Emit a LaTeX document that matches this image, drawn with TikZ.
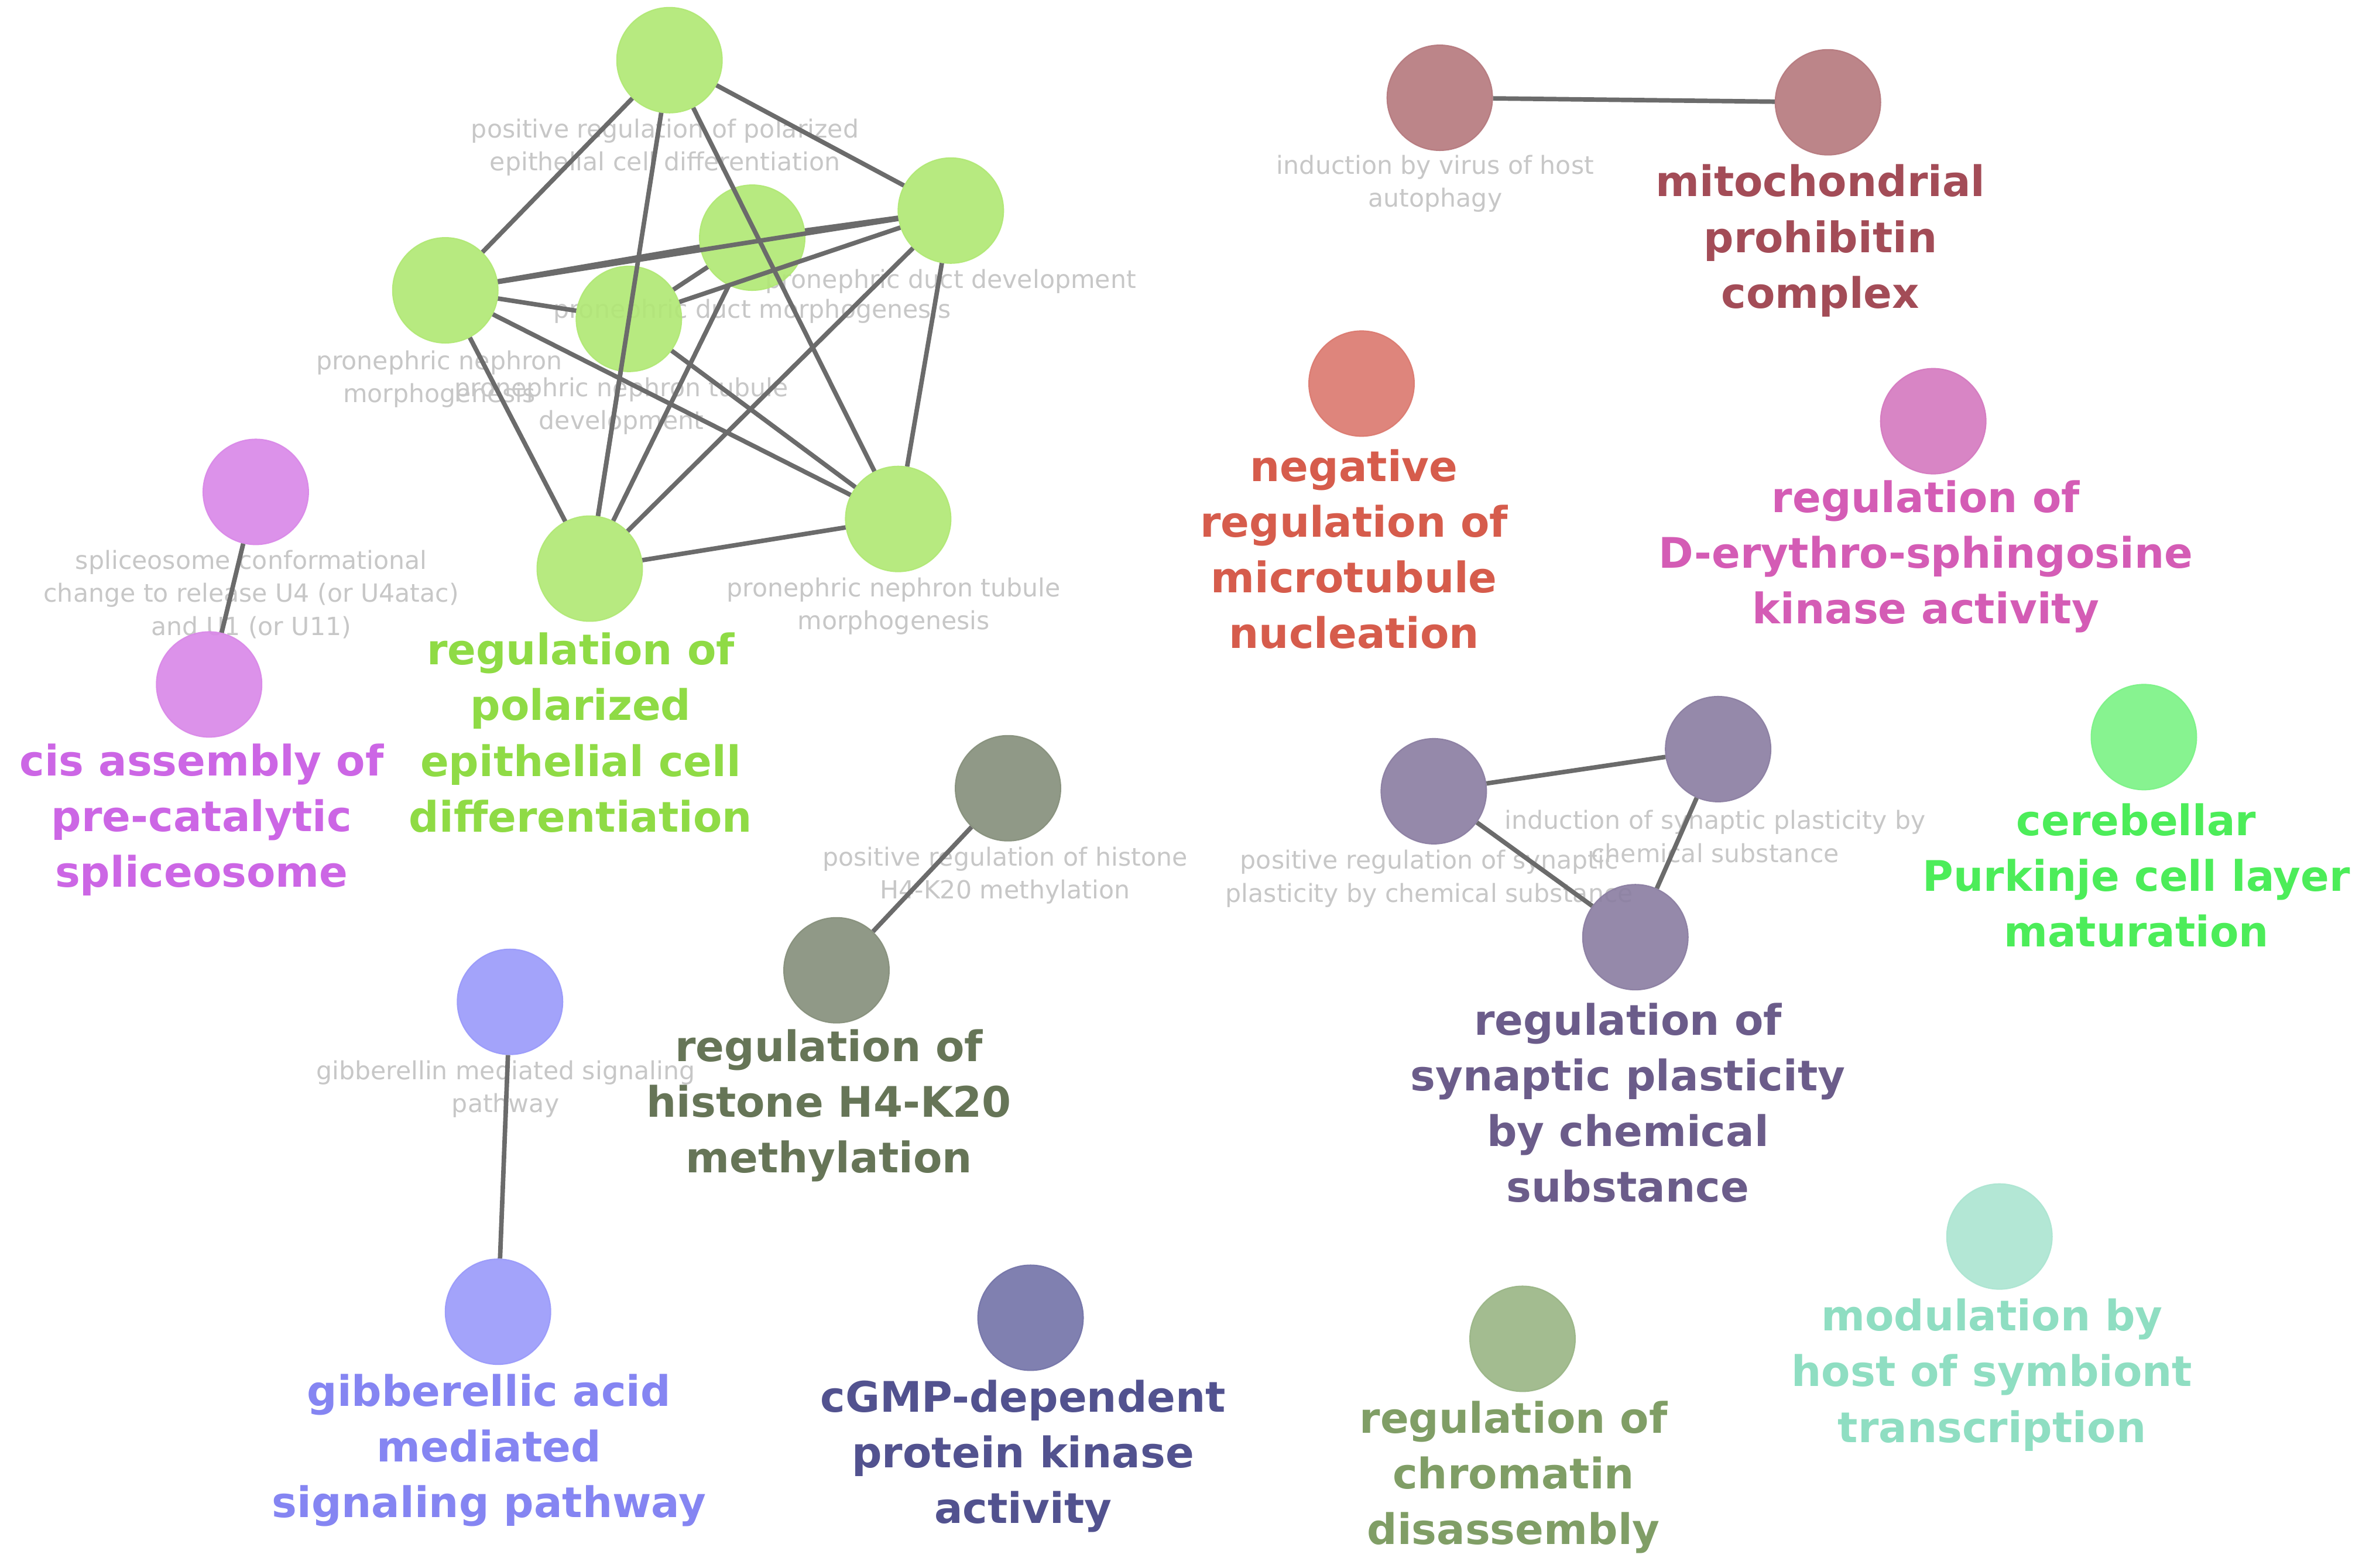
\documentclass[tikz,border=0pt]{standalone}
\usepackage{fontspec}
\setmainfont{DejaVu Sans}
\usetikzlibrary{positioning}
\definecolor{edgeColor}{rgb}{0.42,0.42,0.42}
\definecolor{smallColor}{rgb}{0.78,0.78,0.78}
\definecolor{polColor}{rgb}{0.69,0.91,0.45}
\definecolor{polText}{rgb}{0.56,0.86,0.27}
\definecolor{mitoColor}{rgb}{0.71,0.47,0.49}
\definecolor{mitoText}{rgb}{0.64,0.30,0.34}
\definecolor{tubColor}{rgb}{0.86,0.47,0.43}
\definecolor{tubText}{rgb}{0.84,0.36,0.30}
\definecolor{sphColor}{rgb}{0.83,0.47,0.75}
\definecolor{sphText}{rgb}{0.83,0.36,0.71}
\definecolor{splColor}{rgb}{0.85,0.53,0.91}
\definecolor{splText}{rgb}{0.80,0.40,0.90}
\definecolor{cerColor}{rgb}{0.48,0.95,0.52}
\definecolor{cerText}{rgb}{0.30,0.93,0.35}
\definecolor{hisColor}{rgb}{0.52,0.56,0.48}
\definecolor{hisText}{rgb}{0.40,0.46,0.34}
\definecolor{synColor}{rgb}{0.54,0.49,0.63}
\definecolor{synText}{rgb}{0.42,0.36,0.54}
\definecolor{gibColor}{rgb}{0.60,0.60,0.98}
\definecolor{gibText}{rgb}{0.52,0.52,0.95}
\definecolor{cgmColor}{rgb}{0.45,0.45,0.66}
\definecolor{cgmText}{rgb}{0.32,0.32,0.56}
\definecolor{chrColor}{rgb}{0.60,0.71,0.52}
\definecolor{chrText}{rgb}{0.50,0.62,0.40}
\definecolor{modColor}{rgb}{0.67,0.90,0.82}
\definecolor{modText}{rgb}{0.56,0.87,0.76}
\tikzset{
  term/.style={circle,minimum size=35pt,inner sep=0pt,fill=#1,draw=#1,opacity=0.9},
  small/.style={text=smallColor,align=center,font=\fontsize{8.3}{11}\selectfont},
  big/.style={text=#1,align=center,font=\fontsize{14}{18.5}\selectfont\bfseries},
  link/.style={draw=edgeColor,line width=1.5pt}
}
\begin{document}
\begin{tikzpicture}[x=0.5pt,y=-0.5pt]
\path[use as bounding box,fill=white] (0,0) rectangle (1568,1042);

% text labels
\node[small] (lpol) at (442,98) {positive regulation of polarized\\epithelial cell differentiation};
\node[small] (ldev) at (632,187) {pronephric duct development};
\node[small] (lmor) at (500,207) {pronephric duct morphogenesis};
\node[small] (lnep) at (292,252) {pronephric nephron\\morphogenesis};
\node[small] (ltub) at (413,270) {pronephric nephron tubule\\development};
\node[small] (ltubm) at (594,403) {pronephric nephron tubule\\morphogenesis};
\node[small] (lvir) at (954,122) {induction by virus of host\\autophagy};
\node[small] (lspl) at (167,395) {spliceosome conformational\\change to release U4 (or U4atac)\\and U1 (or U11)};
\node[small] (lhis) at (668,582) {positive regulation of histone\\H4-K20 methylation};
\node[small] (lind) at (1140,556) {induction of synaptic plasticity by\\chemical substance};
\node[small] (lpos) at (950,584) {positive regulation of synaptic\\plasticity by chemical substance};
\node[small] (lgib) at (336,724) {gibberellin mediated signaling\\pathway};

% green cluster
\node[term=polColor] (g1) at (445,40) {};
\node[term=polColor] (g2) at (632,140) {};
\node[term=polColor] (g3) at (500,158) {};
\node[term=polColor] (g4) at (296,193) {};
\node[term=polColor] (g5) at (418,212) {};
\node[term=polColor] (g6) at (597,345) {};
\node[term=polColor] (g7) at (392,378) {};
\foreach \a/\b in {g1/g2,g1/g4,g1/g6,g1/g7,g2/g3,g2/g4,g2/g5,g2/g6,g2/g7,
                   g3/g4,g3/g5,g3/g7,g4/g5,g4/g6,g4/g7,g5/g6,g5/g7,g6/g7}
  \draw[link] (\a) -- (\b);

% other terms
\node[term=mitoColor] (vir) at (957,65) {};
\node[term=mitoColor] (mito) at (1215,68) {};
\node[term=tubColor] (tub) at (905,255) {};
\node[term=sphColor] (sph) at (1285,280) {};
\node[term=splColor] (spl) at (170,327) {};
\node[term=splColor] (cis) at (139,455) {};
\node[term=cerColor] (cer) at (1425,490) {};
\node[term=hisColor] (phis) at (670,524) {};
\node[term=hisColor] (his) at (556,645) {};
\node[term=synColor] (pos) at (953,526) {};
\node[term=synColor] (ind) at (1142,498) {};
\node[term=synColor] (syn) at (1087,623) {};
\node[term=gibColor] (gib) at (339,666) {};
\node[term=gibColor] (gac) at (331,872) {};
\node[term=cgmColor] (cgm) at (685,876) {};
\node[term=chrColor] (chr) at (1012,890) {};
\node[term=modColor] (mod) at (1329,822) {};

\draw[link] (vir) -- (mito);
\draw[link] (spl) -- (cis);
\draw[link] (phis) -- (his);
\draw[link] (pos) -- (ind);
\draw[link] (ind) -- (syn);
\draw[link] (pos) -- (syn);
\draw[link] (gib) -- (gac);

% big labels
\node[big=polText] (tpol) at (386,487) {regulation of\\polarized\\epithelial cell\\differentiation};
\node[big=mitoText] (tmito) at (1210,160) {mitochondrial\\prohibitin\\complex};
\node[big=tubText] (ttub) at (900,365) {negative\\regulation of\\microtubule\\nucleation};
\node[big=sphText] (tsph) at (1280,370) {regulation of\\D-erythro-sphingosine\\kinase activity};
\node[big=splText] (tcis) at (134,545) {cis assembly of\\pre-catalytic\\spliceosome};
\node[big=cerText] (tcer) at (1420,582) {cerebellar\\Purkinje cell layer\\maturation};
\node[big=hisText] (this) at (551,735) {regulation of\\histone H4-K20\\methylation};
\node[big=synText] (tsyn) at (1082,733) {regulation of\\synaptic plasticity\\by chemical\\substance};
\node[big=gibText] (tgac) at (325,964) {gibberellic acid\\mediated\\signaling pathway};
\node[big=cgmText] (tcgm) at (680,968) {cGMP-dependent\\protein kinase\\activity};
\node[big=chrText] (tchr) at (1006,982) {regulation of\\chromatin\\disassembly};
\node[big=modText] (tmod) at (1324,914) {modulation by\\host of symbiont\\transcription};
\end{tikzpicture}
\end{document}
